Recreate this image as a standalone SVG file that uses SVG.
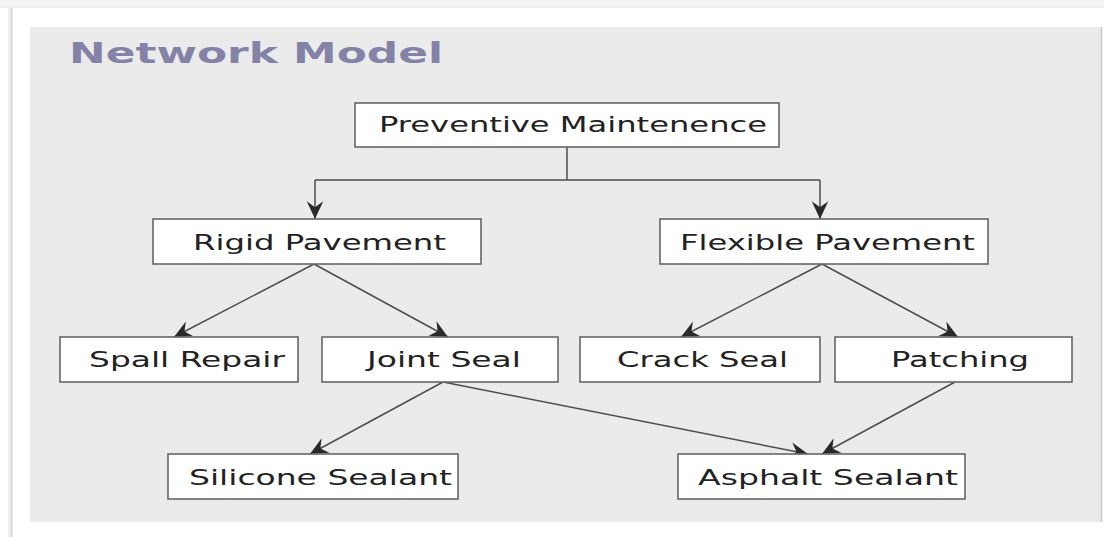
<svg xmlns="http://www.w3.org/2000/svg" width="1104" height="537" viewBox="0 0 1104 537">
  <style>
    .box { fill: #ffffff; stroke: #666666; stroke-width: 1.6; }
    .lbl { font-family: "DejaVu Sans", "Liberation Sans", sans-serif; font-size: 21px; fill: #222222; }
    .title { font-family: "DejaVu Sans", "Liberation Sans", sans-serif; font-weight: bold; font-size: 29px; fill: #8582a8; }
    .edge { fill: none; stroke: #4d4d4d; stroke-width: 1.5; }
  </style>
  <defs>
    <marker id="arr" markerUnits="userSpaceOnUse" markerWidth="20" markerHeight="20" viewBox="-16 -8 17 16" refX="0" refY="0" orient="auto">
      <path d="M0,0 L-15,-7 L-10,0 L-15,7 Z" fill="#2a2a2a"/>
    </marker>
  </defs>

  <!-- page / card -->
  <rect x="0" y="0" width="1104" height="537" fill="#ffffff"/>
  <rect x="0" y="0" width="1104" height="7" fill="#f3f3f3"/>
  <line x1="0" y1="7.5" x2="1104" y2="7.5" stroke="#ececec" stroke-width="1"/>
  <line x1="11.5" y1="8" x2="11.5" y2="537" stroke="#d4d4d4" stroke-width="2"/>
  <line x1="9" y1="8" x2="9" y2="537" stroke="#efefef" stroke-width="2"/>
  <rect x="30" y="27" width="1072" height="495" fill="#ebebeb"/>
  <line x1="1101.5" y1="27" x2="1101.5" y2="522" stroke="#c6c6c6" stroke-width="1.5"/>

  <text class="title" x="69" y="63" textLength="374" lengthAdjust="spacingAndGlyphs">Network Model</text>

  <g id="connectors">
    <path class="edge" d="M567,147 V180"/>
    <path class="edge" d="M315,180 H820"/>
    <path class="edge" d="M315,180 V219" marker-end="url(#arr)"/>
    <path class="edge" d="M820,180 V219" marker-end="url(#arr)"/>
    <path class="edge" d="M314,264 L174,337" marker-end="url(#arr)"/>
    <path class="edge" d="M314,264 L448,337" marker-end="url(#arr)"/>
    <path class="edge" d="M822,264 L681,337" marker-end="url(#arr)"/>
    <path class="edge" d="M822,264 L958,337" marker-end="url(#arr)"/>
    <path class="edge" d="M443,382 L310,454" marker-end="url(#arr)"/>
    <path class="edge" d="M443,382 L808,454" marker-end="url(#arr)"/>
    <path class="edge" d="M955,382 L822,454" marker-end="url(#arr)"/>
  </g>

  <g id="preventive">
    <rect class="box" x="355" y="103" width="424" height="44"/>
    <text class="lbl" x="379" y="132" textLength="388" lengthAdjust="spacingAndGlyphs">Preventive Maintenence</text>
  </g>
  <g id="rigid">
    <rect class="box" x="153" y="219" width="328" height="45"/>
    <text class="lbl" x="193" y="250" textLength="253" lengthAdjust="spacingAndGlyphs">Rigid Pavement</text>
  </g>
  <g id="flexible">
    <rect class="box" x="660" y="219" width="328" height="45"/>
    <text class="lbl" x="680" y="250" textLength="295" lengthAdjust="spacingAndGlyphs">Flexible Pavement</text>
  </g>
  <g id="spall">
    <rect class="box" x="60" y="337" width="238" height="45"/>
    <text class="lbl" x="89" y="367" textLength="196" lengthAdjust="spacingAndGlyphs">Spall Repair</text>
  </g>
  <g id="joint">
    <rect class="box" x="322" y="337" width="236" height="45"/>
    <text class="lbl" x="367" y="367" textLength="154" lengthAdjust="spacingAndGlyphs">Joint Seal</text>
  </g>
  <g id="crack">
    <rect class="box" x="580" y="337" width="240" height="45"/>
    <text class="lbl" x="617" y="367" textLength="171" lengthAdjust="spacingAndGlyphs">Crack Seal</text>
  </g>
  <g id="patching">
    <rect class="box" x="835" y="337" width="237" height="45"/>
    <text class="lbl" x="891" y="367" textLength="138" lengthAdjust="spacingAndGlyphs">Patching</text>
  </g>
  <g id="silicone">
    <rect class="box" x="168" y="454" width="290" height="45"/>
    <text class="lbl" x="189" y="485" textLength="263" lengthAdjust="spacingAndGlyphs">Silicone Sealant</text>
  </g>
  <g id="asphalt">
    <rect class="box" x="678" y="454" width="287" height="45"/>
    <text class="lbl" x="698" y="485" textLength="260" lengthAdjust="spacingAndGlyphs">Asphalt Sealant</text>
  </g>
</svg>
